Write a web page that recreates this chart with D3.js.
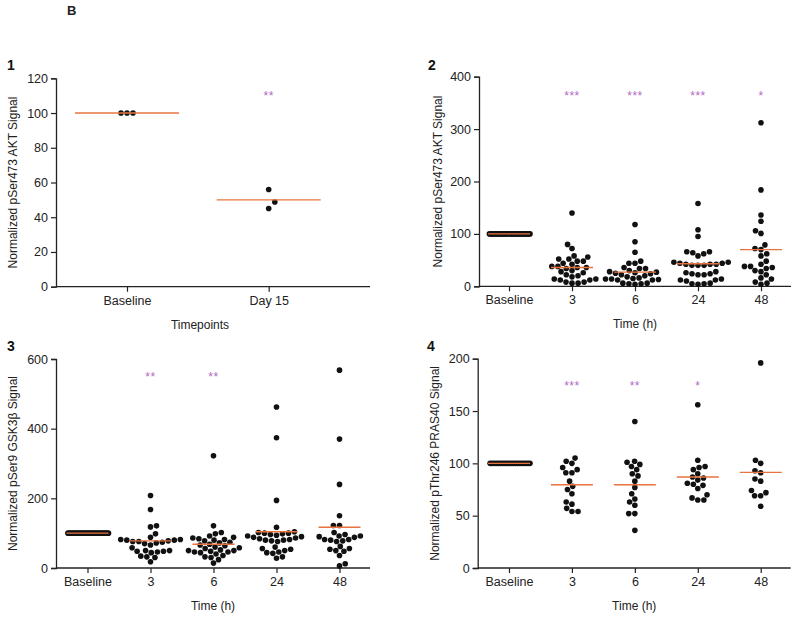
<!DOCTYPE html>
<html>
<head>
<meta charset="utf-8">
<script src="https://cdn.jsdelivr.net/npm/d3@7"></script>
<style>
  html, body { margin: 0; padding: 0; background: #fff; }
  svg { display: block; font-family: Arial, "Liberation Sans", sans-serif; }
</style>
</head>
<body>
<svg id="chart" width="800" height="617"></svg>
<script>
// ---------------- DATA ----------------
const p1Categories = ["Baseline", "Day 15"];
const p1Values = [
  [100, 100, 100],
  [56, 48.8, 45]
];
const p1Means = [100, 50];
const p1Stars = ["", "**"];
const p1Ticks = [0, 20, 40, 60, 80, 100, 120];

const timeCategories = ["Baseline", "3", "6", "24", "48"];

const p2Values = [
  [100,100,100,100,100,100,100,100,100,100,100,100,100,100,100,100,100,100,100,100,100,100,100,100,100,100,100,100,100,100],
  [140, 80, 72, 58, 52, 48, 48, 52, 56, 38, 36, 34, 36, 38, 28, 30, 26, 22, 14, 12, 8, 6, 6, 8, 12, 14, 18, 20, 42, 44],
  [118, 85, 65, 48, 44, 44, 36, 34, 34, 30, 28, 27, 26, 25, 24, 22, 20, 18, 16, 15, 14, 14, 13, 12, 12, 6, 5, 4, 5, 6],
  [158, 108, 95, 66, 64, 62, 58, 66, 46, 44, 42, 40, 42, 44, 46, 40, 40, 42, 26, 24, 22, 22, 24, 28, 12, 12, 14, 10, 5, 4, 5, 6],
  [312, 184, 136, 124, 106, 101, 79, 72, 70, 62, 58, 48, 42, 38, 36, 34, 38, 30, 28, 22, 16, 14, 8, 4, 6]
];
const p2Means = [100, 36, 27, 43, 70];
const p2Stars = ["", "***", "***", "***", "*"];
const p2Ticks = [0, 100, 200, 300, 400];

const p3Values = [
  [100,100,100,100,100,100,100,100,100,100,100,100,100,100,100,100,100,100,100,100,100,100,100,100,100,100,100,100,100,100],
  [208, 168, 121, 118, 98, 88, 82, 80, 78, 76, 76, 74, 72, 70, 80, 82, 58, 50, 48, 46, 44, 48, 50, 32, 30, 34, 18, 66],
  [322, 121, 102, 98, 92, 88, 86, 84, 82, 80, 78, 74, 72, 68, 66, 64, 60, 58, 56, 52, 50, 50, 48, 46, 46, 44, 40, 36, 32, 30, 24, 14],
  [462, 374, 194, 117, 104, 102, 100, 100, 98, 96, 94, 92, 90, 88, 86, 84, 82, 80, 80, 78, 76, 60, 56, 54, 50, 46, 44, 42, 32, 28],
  [568, 370, 240, 150, 122, 122, 102, 96, 92, 90, 88, 92, 82, 80, 78, 76, 82, 62, 56, 54, 50, 48, 36, 12, 6]
];
const p3Means = [100, 78, 68, 104, 117];
const p3Stars = ["", "**", "**", "", ""];
const p3Ticks = [0, 200, 400, 600];

const p4Values = [
  [100,100,100,100,100,100,100,100,100,100,100,100,100,100,100,100,100,100,100,100],
  [105, 102, 100, 94, 96, 91, 91, 83, 78, 75, 71, 63, 61, 57, 54, 54],
  [140, 102, 101, 99, 97, 94, 90, 88, 83, 77, 71, 66, 63, 60, 52, 52, 36],
  [156, 103, 97, 96, 94, 90, 87, 86, 84, 81, 80, 79, 76, 70, 67, 65, 65],
  [196, 103, 100, 93, 91, 85, 83, 74, 72, 69, 69, 59]
];
const p4Means = [100, 79.6, 79.6, 87, 91.4];
const p4Stars = ["", "***", "**", "*", ""];
const p4Ticks = [0, 50, 100, 150, 200];

// ---------------- STYLE / LAYOUT ----------------
const ORANGE = "#e8733f";
const PURPLE = "#b36ac6";
const DOT = "#111";
const AXIS = "#222";
const R = 2.8;

const svg = d3.select("#chart");

svg.append("text").attr("x", 67).attr("y", 15)
  .attr("font-size", 13).attr("font-weight", "bold").attr("fill", "#222").text("B");

function swarm(vals, y, d, maxHalf) {
  const idx = vals.map((v, i) => i).sort((a, b) => vals[a] - vals[b]);
  const placed = [];
  const out = new Array(vals.length);
  let flip = 1;
  for (const i of idx) {
    const py = y(vals[i]);
    const near = placed.filter(p => Math.abs(p.y - py) < d);
    const cands = [0];
    near.forEach(p => {
      const dx = Math.sqrt(d * d - (p.y - py) ** 2);
      cands.push(p.x + dx, p.x - dx);
    });
    cands.sort((a, b) => (Math.abs(a) - Math.abs(b)) || (flip * (a - b)));
    const x = cands.find(c => near.every(p => (p.x - c) ** 2 + (p.y - py) ** 2 >= d * d - 1e-6));
    flip = -flip;
    placed.push({ x, y: py });
    out[i] = { x, y: py };
  }
  const m = d3.max(out, o => Math.abs(o.x)) || 0;
  const s = m > maxHalf ? maxHalf / m : 1;
  out.forEach(o => o.x *= s);
  return out;
}

function drawPanel(cfg) {
  const g = svg.append("g");
  const y = d3.scaleLinear().domain(cfg.yDomain).range([cfg.yBottom, cfg.yTop]);
  const x = d3.scalePoint().domain(cfg.categories).range([cfg.firstX, cfg.lastX]);

  // y axis
  const yAxis = d3.axisLeft(y).tickValues(cfg.ticks).tickSize(5).tickPadding(3).tickFormat(d3.format("d"));
  const ya = g.append("g").attr("transform", `translate(${cfg.axisX},0)`).call(yAxis);
  ya.select(".domain").attr("stroke", AXIS).attr("stroke-width", 1.3);
  ya.selectAll(".tick line").attr("stroke", AXIS).attr("stroke-width", 1.2);
  ya.selectAll(".tick text").attr("font-size", 12.5).attr("fill", "#222")
    .attr("font-family", "Arial, 'Liberation Sans', sans-serif");

  // x axis
  const xAxis = d3.axisBottom(x).tickSize(5).tickPadding(4).tickSizeOuter(0);
  const xa = g.append("g").attr("transform", `translate(0,${cfg.yBottom})`).call(xAxis);
  xa.select(".domain").attr("d", `M${cfg.axisX},0H${cfg.axisEnd}`)
    .attr("stroke", AXIS).attr("stroke-width", 1.3);
  xa.selectAll(".tick line").attr("stroke", AXIS).attr("stroke-width", 1.2);
  xa.selectAll(".tick text").attr("font-size", 12.5).attr("fill", "#222")
    .attr("font-family", "Arial, 'Liberation Sans', sans-serif");

  // y label
  g.append("text")
    .attr("transform", `translate(${cfg.yLabelX},${(cfg.yTop + cfg.yBottom) / 2}) rotate(-90)`)
    .attr("text-anchor", "middle").attr("dominant-baseline", "central")
    .attr("font-size", 12).attr("fill", "#222").text(cfg.yLabel);

  // x label
  g.append("text")
    .attr("x", (cfg.axisX + cfg.axisEnd) / 2 + cfg.xLabelShift).attr("y", cfg.yBottom + 38)
    .attr("text-anchor", "middle").attr("dominant-baseline", "central")
    .attr("font-size", 12).attr("fill", "#222").text(cfg.xLabel);

  // panel number
  g.append("text").attr("x", cfg.numX).attr("y", cfg.numY)
    .attr("font-size", 14).attr("font-weight", "bold").attr("fill", "#111").text(cfg.num);

  // dots
  cfg.categories.forEach((c, ci) => {
    const pts = swarm(cfg.values[ci], y, cfg.spacing, ci === 0 ? cfg.baseHalf : 40);
    g.append("g").selectAll("circle").data(pts).join("circle")
      .attr("cx", d => x(c) + d.x).attr("cy", d => d.y).attr("r", R).attr("fill", DOT);
  });

  // mean lines
  g.append("g").selectAll("line").data(cfg.categories).join("line")
    .attr("x1", c => x(c) - cfg.lineHalf).attr("x2", c => x(c) + cfg.lineHalf)
    .attr("y1", (c, i) => y(cfg.means[i])).attr("y2", (c, i) => y(cfg.means[i]))
    .attr("stroke", ORANGE).attr("stroke-width", 1.4);

  // significance stars
  g.append("g").selectAll("text").data(cfg.categories).join("text")
    .attr("x", c => x(c)).attr("y", cfg.starY + 7)
    .attr("text-anchor", "middle").attr("font-size", 12).attr("fill", PURPLE)
    .attr("letter-spacing", 0.5)
    .text((c, i) => cfg.stars[i]);
}

drawPanel({
  num: "1", numX: 7, numY: 70,
  categories: p1Categories, values: p1Values, means: p1Means, stars: p1Stars, ticks: p1Ticks,
  yDomain: [0, 120], yTop: 78.3, yBottom: 286.7,
  axisX: 56, axisEnd: 370, firstX: 127, lastX: 268.7,
  yLabel: "Normalized pSer473 AKT Signal", yLabelX: 13,
  xLabel: "Timepoints", xLabelShift: -13,
  lineHalf: 52, baseHalf: 6, spacing: 9, starY: 92.7
});

drawPanel({
  num: "2", numX: 428, numY: 70,
  categories: timeCategories, values: p2Values, means: p2Means, stars: p2Stars, ticks: p2Ticks,
  yDomain: [0, 400], yTop: 76.7, yBottom: 286.3,
  axisX: 479, axisEnd: 791, firstX: 509, lastX: 761,
  yLabel: "Normalized pSer473 AKT Signal", yLabelX: 438,
  xLabel: "Time (h)", xLabelShift: 0,
  lineHalf: 21, baseHalf: 21, spacing: 6.1, starY: 92.7
});

drawPanel({
  num: "3", numX: 7, numY: 351,
  categories: timeCategories, values: p3Values, means: p3Means, stars: p3Stars, ticks: p3Ticks,
  yDomain: [0, 600], yTop: 359, yBottom: 568,
  axisX: 56, axisEnd: 370, firstX: 87.5, lastX: 339.5,
  yLabel: "Normalized pSer9 GSK3\u03B2 Signal", yLabelX: 13,
  xLabel: "Time (h)", xLabelShift: 0,
  lineHalf: 21, baseHalf: 21, spacing: 6.1, starY: 374
});

drawPanel({
  num: "4", numX: 427, numY: 351,
  categories: timeCategories, values: p4Values, means: p4Means, stars: p4Stars, ticks: p4Ticks,
  yDomain: [0, 200], yTop: 358.7, yBottom: 568,
  axisX: 477.7, axisEnd: 790.7, firstX: 509, lastX: 760.7,
  yLabel: "Normalized pThr246 PRAS40 Signal", yLabelX: 435,
  xLabel: "Time (h)", xLabelShift: 0,
  lineHalf: 21, baseHalf: 21, spacing: 6.1, starY: 383.3
});
</script>
</body>
</html>
